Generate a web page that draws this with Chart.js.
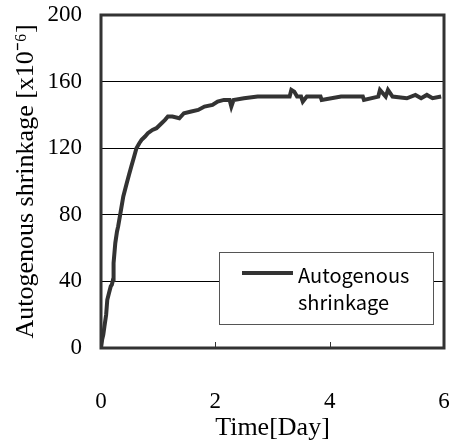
<!DOCTYPE html>
<html>
<head>
<meta charset="utf-8">
<script src="https://cdn.jsdelivr.net/npm/chart.js@4.4.1/dist/chart.umd.min.js"></script>
<style>
  html, body { margin: 0; padding: 0; background: #fff; }
  #wrap { width: 454px; height: 446px; }
</style>
</head>
<body>
<div id="wrap"><canvas id="myChart" width="454" height="446"></canvas></div>
<script>
var Days = [0.00,0.02,0.04,0.06,0.09,0.11,0.14,0.17,0.19,0.21,0.22,0.25,0.28,0.30,0.34,0.39,0.45,0.49,0.53,0.58,
            0.62,0.67,0.71,0.77,0.82,0.90,0.97,1.06,1.12,1.17,1.25,1.37,1.45,1.58,1.70,1.81,1.95,2.04,2.15,2.25,
            2.28,2.32,2.50,2.74,3.00,3.30,3.33,3.38,3.43,3.50,3.53,3.60,3.84,3.86,4.20,4.58,4.60,4.85,4.88,4.98,
            5.02,5.10,5.35,5.50,5.60,5.70,5.80,5.95];
var Shrinkage = [0,5,8,13,20,29,33,37,38,41,51,63,70,73,81,91,99,104,109,115,
                 120,123,125,127,129,131,132,135,137,139,139,138,141,142,143,145,146,148,149,149,
                 145,149,150,151,151,151,155,154,151,151,148,151,151,149,151,151,149,151,155,151,
                 155,151,150,152,150,152,150,151];
var YTicks = [0, 40, 80, 120, 160, 200];
var XTicks = [0, 2, 4, 6];
var SeriesName = ["Autogenous", "shrinkage"];

var points = Days.map(function (d, i) { return { x: d, y: Shrinkage[i] }; });

// frame, inner x ticks and the boxed legend
var framePlugin = {
    id: 'frame',
    afterDraw: function (chart) {
        var c = chart.ctx, a = chart.chartArea, xs = chart.scales.x;
        c.save();
        c.strokeStyle = '#333';
        c.lineWidth = 1;
        [2, 4].forEach(function (v) {
            var px = Math.round(xs.getPixelForValue(v)) + 0.5;
            c.beginPath();
            c.moveTo(px, a.bottom);
            c.lineTo(px, a.bottom - 6);
            c.stroke();
        });
        c.lineWidth = 3;
        c.strokeRect(a.left, a.top, a.right - a.left, a.bottom - a.top);

        // legend box
        var bx = a.left + 118, by = a.top + 237, bw = 214, bh = 72;
        c.fillStyle = '#fff';
        c.fillRect(bx, by, bw, bh);
        c.lineWidth = 1;
        c.strokeStyle = '#555';
        c.strokeRect(bx + 0.5, by + 0.5, bw, bh);
        c.strokeStyle = '#333';
        c.lineWidth = 4;
        c.beginPath();
        c.moveTo(bx + 23, by + 21);
        c.lineTo(bx + 74, by + 21);
        c.stroke();
        c.fillStyle = '#000';
        c.font = '20px "Noto Sans CJK JP"';
        c.textBaseline = 'alphabetic';
        c.fillText(SeriesName[0], bx + 79, by + 31);
        c.fillText(SeriesName[1], bx + 79, by + 58);
        c.restore();
    }
};

const ctx = document.getElementById('myChart');
const myChart = new Chart(ctx, {
    type: 'scatter',
    data: {
        datasets: [{
            label: SeriesName.join(' '),
            data: points,
            showLine: true,
            borderColor: '#333',
            borderWidth: 4,
            pointRadius: 0,
            tension: 0
        }]
    },
    options: {
        responsive: false,
        animation: false,
        layout: { padding: { left: 0, right: 10, top: 15, bottom: 0 } },
        plugins: { legend: { display: false }, tooltip: { enabled: false } },
        scales: {
            x: {
                type: 'linear', min: 0, max: 6,
                afterFit: function (s) { s.height = 98; s.paddingLeft = 0; s.paddingRight = 0; },
                afterBuildTicks: function (s) { s.ticks = XTicks.map(function (v) { return { value: v }; }); },
                grid: { display: false },
                border: { display: false },
                ticks: { color: '#000', padding: 32, font: { family: '"Liberation Serif"', size: 23 } },
                title: { display: true, text: 'Time[Day]', color: '#000', padding: { top: 0, bottom: 2 },
                         font: { family: '"Liberation Serif"', size: 26 } }
            },
            y: {
                min: 0, max: 200,
                afterFit: function (s) { s.width = 101; s.paddingTop = 0; s.paddingBottom = 0; },
                afterBuildTicks: function (s) { s.ticks = YTicks.map(function (v) { return { value: v }; }); },
                grid: {
                    drawTicks: false,
                    color: '#000',
                    lineWidth: function (c) { return (c.tick && (c.tick.value === 0 || c.tick.value === 200)) ? 0 : 1; }
                },
                border: { display: false },
                ticks: { color: '#000', padding: 19, font: { family: '"Liberation Serif"', size: 23 } },
                title: { display: true, text: 'Autogenous shrinkage [x10\u207B\u2076]', color: '#000',
                         padding: { top: 11, bottom: 0 },
                         font: { family: '"Liberation Serif"', size: 26 } }
            }
        }
    },
    plugins: [framePlugin]
});
</script>
</body>
</html>
